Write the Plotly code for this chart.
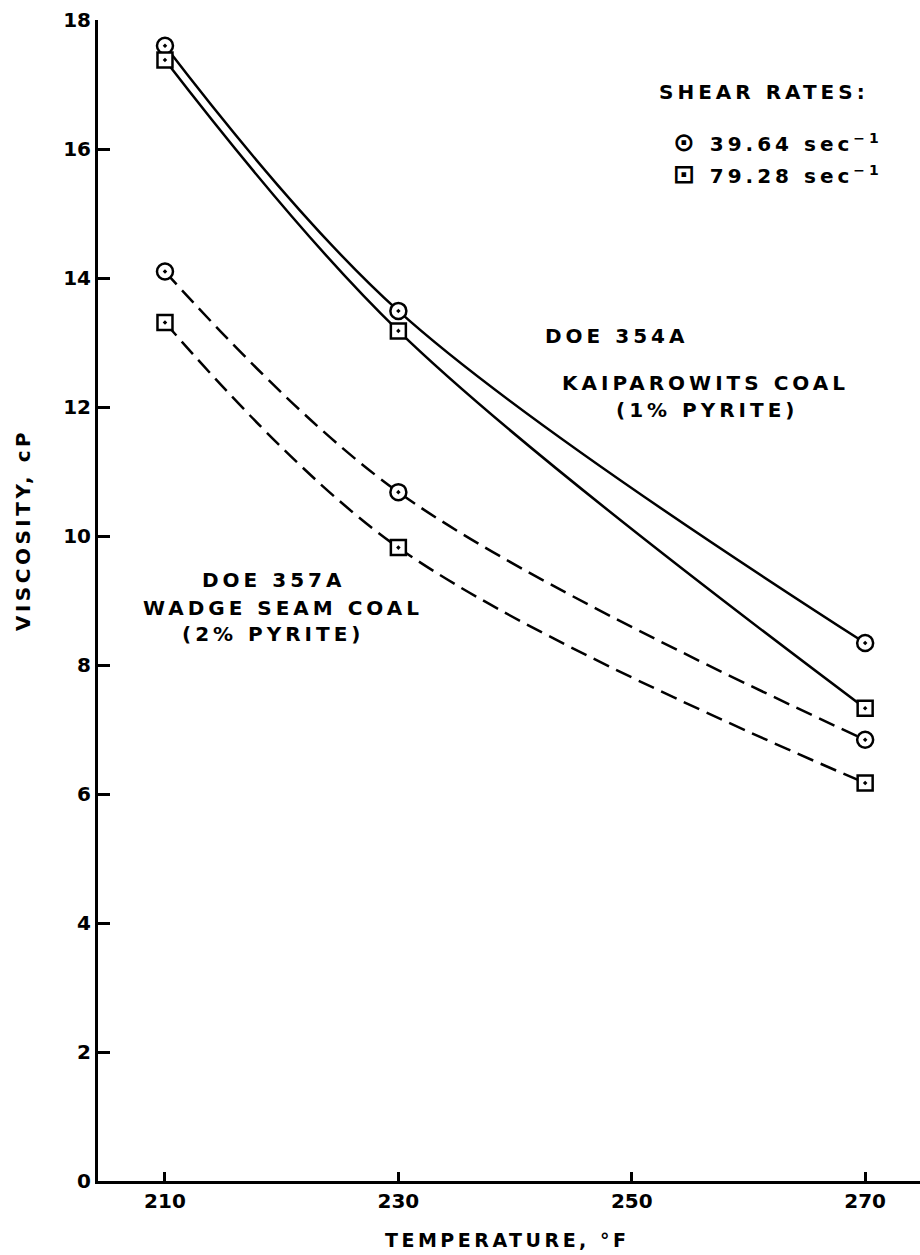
import plotly.graph_objects as go

# Data
temperature = [210, 230, 270]
kaip_39 = [17.60, 13.49, 8.34]
kaip_79 = [17.38, 13.18, 7.33]
wadge_39 = [14.10, 10.68, 6.84]
wadge_79 = [13.31, 9.82, 6.17]

x_ticks = [210, 230, 250, 270]
y_ticks = [0, 2, 4, 6, 8, 10, 12, 14, 16, 18]

FONT = "DejaVu Sans"
LS = "letter-spacing:4px"

fig = go.Figure()

series = [
    (kaip_39, "circle-dot", "solid", "Kaiparowits 39.64"),
    (kaip_79, "square-dot", "solid", "Kaiparowits 79.28"),
    (wadge_39, "circle-dot", "17px,8px", "Wadge 39.64"),
    (wadge_79, "square-dot", "17px,8px", "Wadge 79.28"),
]
for ys, sym, dash, name in series:
    fig.add_trace(go.Scatter(
        x=temperature, y=ys, name=name, mode="lines+markers",
        line=dict(color="black", width=2.5, dash=dash, shape="spline", smoothing=1.0),
        marker=dict(symbol=sym, size=16 if "circle" in sym else 15, color="white",
                    line=dict(color="black", width=2.5)),
        showlegend=False, cliponaxis=False,
    ))

def txt(x, y, s, size=20, anchor="center", spacing=LS):
    fig.add_annotation(x=x, y=y, xref="x", yref="y",
                       text=f'<span style="{spacing}">{s}</span>', showarrow=False,
                       xanchor=anchor, yanchor="middle",
                       font=dict(family=FONT, size=size, color="black", weight="bold"))

txt(261.3, 16.88, "SHEAR RATES:")
txt(253.4, 16.11, '<span style="font-size:26px">⊙</span> 39.64 sec<sup>−1</sup>', anchor="left")
txt(253.4, 15.61, '<span style="font-size:26px">⊡</span> 79.28 sec<sup>−1</sup>', anchor="left")
txt(248.7, 13.10, "DOE 354A")
txt(256.3, 12.37, "KAIPAROWITS COAL")
txt(256.5, 11.95, "(1% PYRITE)")
txt(219.3, 9.32, "DOE 357A")
txt(220.1, 8.88, "WADGE SEAM COAL")
txt(219.3, 8.48, "(2% PYRITE)")

fig.add_annotation(x=-0.0912, y=0.5607, xref="paper", yref="paper",
                   text='<span style="letter-spacing:3.5px">VISCOSITY, cP</span>',
                   showarrow=False, textangle=-90,
                   xanchor="center", yanchor="middle",
                   font=dict(family=FONT, size=20, color="black", weight="bold"))
fig.add_annotation(x=0.497, y=-0.0508, xref="paper", yref="paper",
                   text='<span style="letter-spacing:3.5px">TEMPERATURE, °F</span>',
                   showarrow=False,
                   xanchor="center", yanchor="middle",
                   font=dict(family=FONT, size=19, color="black", weight="bold"))

fig.update_xaxes(range=[204.26, 274.7], tickmode="array", tickvals=x_ticks,
                 ticktext=[str(v) for v in x_ticks],
                 showline=True, linewidth=3, linecolor="black",
                 ticks="inside", ticklen=9, tickwidth=2.5, tickcolor="black",
                 showgrid=False, zeroline=False,
                 tickfont=dict(family=FONT, size=20, color="black", weight="bold"))
fig.update_yaxes(range=[0, 18], tickmode="array", tickvals=y_ticks,
                 ticktext=[str(v) for v in y_ticks],
                 showline=True, linewidth=3, linecolor="black",
                 ticks="inside", ticklen=12, tickwidth=2.5, tickcolor="black",
                 showgrid=False, zeroline=False,
                 tickfont=dict(family=FONT, size=20, color="black", weight="bold"))

fig.update_layout(width=920, height=1255, margin=dict(l=98, r=0, t=20, b=74),
                  plot_bgcolor="white", paper_bgcolor="white", showlegend=False)

fig.write_html("out.html")
